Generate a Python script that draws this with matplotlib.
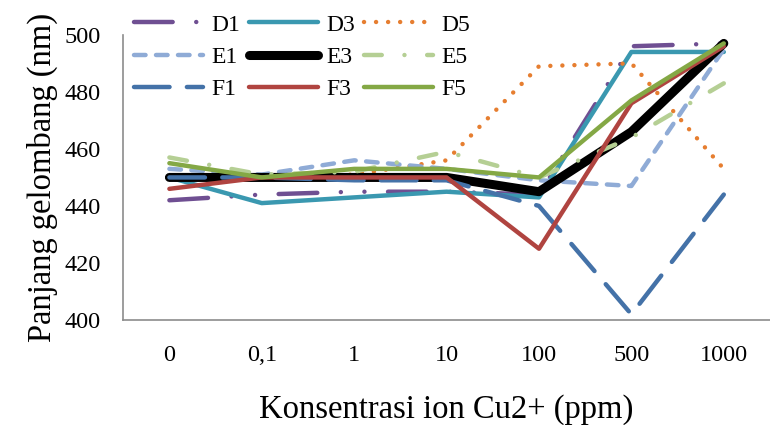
import numpy as np
import matplotlib.pyplot as plt

# konsentrasi ion Cu2+ (ppm)
kategori = ['0', '0,1', '1', '10', '100', '500', '1000']

# panjang gelombang (nm)
D1 = [442, 444, 445, 445, 444, 496, 497]
D3 = [450, 441, 443, 445, 443, 494, 494]
D5 = [450, 450, 451, 456, 489, 490, 453]
E1 = [453, 451, 456, 453, 449, 447, 495]
E3 = [450, 450, 450, 450, 445, 466, 497]
E5 = [457, 451, 452, 459, 450, 464, 483]
F1 = [450, 450, 449, 449, 440, 402, 444]
F3 = [446, 450, 450, 450, 425, 476, 496]
F5 = [455, 450, 453, 453, 450, 477, 497]

plt.rcParams['font.family'] = 'Liberation Serif'

fig = plt.figure(figsize=(7.7, 4.25), dpi=100)
ax = fig.add_axes([0.16, 0.247, 0.84, 0.671])

x = np.arange(len(kategori))
lw = 3.2
gaya = [
    ('D1', D1, '#6f4f92', lw, (0, (8.7, 5.3, 0.01, 5.3, 0.01, 5.3))),
    ('D3', D3, '#3a98b0', lw, '-'),
    ('D5', D5, '#e67e30', lw, (0, (0.01, 2.7))),
    ('E1', E1, '#8fabd6', lw, (0, (2.6, 2.35))),
    ('E3', E3, '#000000', 6.5, '-'),
    ('E5', E5, '#b5cf94', lw, (0, (4.0, 5.1, 0.01, 5.1))),
    ('F1', F1, '#4472a8', lw, (0, (8.0, 3.9))),
    ('F3', F3, '#b04440', lw, '-'),
    ('F5', F5, '#84a845', lw, '-'),
]
garis = {}
for nama, nilai, warna, tebal, ls in gaya:
    l, = ax.plot(x, nilai, color=warna, lw=tebal, linestyle=ls,
                 dash_capstyle='round', solid_capstyle='round',
                 solid_joinstyle='round', label=nama)
    garis[nama] = l

ax.set_xlim(-0.5, len(kategori) - 0.5)
ax.set_ylim(400, 500)
ax.set_yticks(np.arange(400, 501, 20))
ax.set_xticks(x)
ax.set_xticklabels(kategori)
ax.tick_params(length=0, labelsize=17.5)
ax.tick_params(axis='y', pad=16)
ax.tick_params(axis='x', pad=18)
for s in ['top', 'right']:
    ax.spines[s].set_visible(False)
for s in ['left', 'bottom']:
    ax.spines[s].set_color('#8c8c8c')
    ax.spines[s].set_linewidth(1.2)

ax.set_ylabel('Panjang gelombang (nm)', fontsize=23.5, labelpad=5)
ax.set_xlabel('Konsentrasi ion Cu2+ (ppm)', fontsize=23.5, labelpad=20)

urutan = ['D1', 'E1', 'F1', 'D3', 'E3', 'F3', 'D5', 'E5', 'F5']
fig.legend([garis[n] for n in urutan], urutan, ncol=3, loc='upper left',
           bbox_to_anchor=(0.155, 1.0), frameon=False, fontsize=17,
           handlelength=2.95, handletextpad=0.35, columnspacing=0.35,
           labelspacing=0.45, borderaxespad=0.2)

fig.savefig('out.png', dpi=100)
